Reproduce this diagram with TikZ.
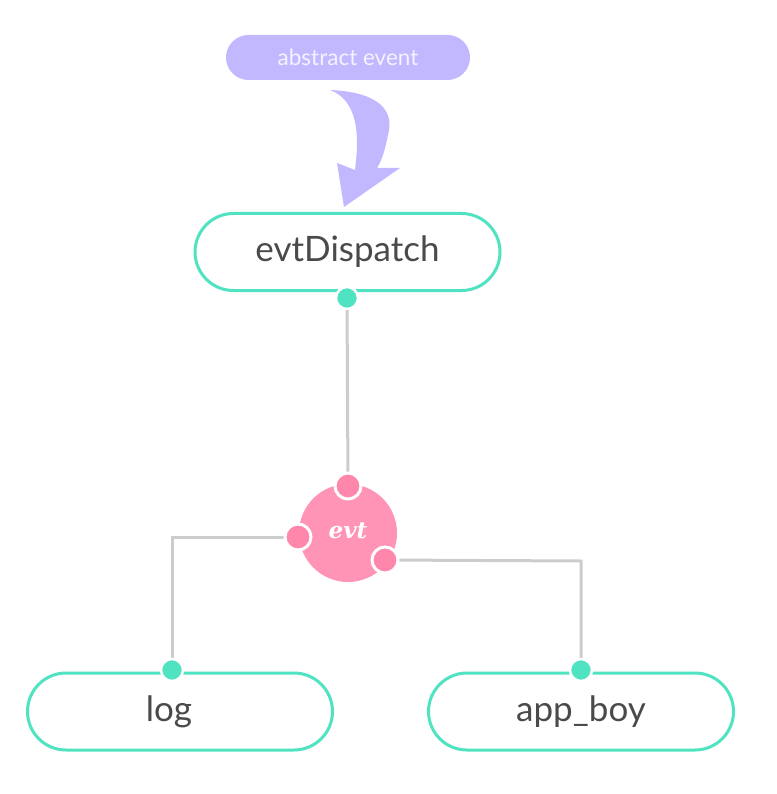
\documentclass[tikz,border=0pt]{standalone}
\usepackage{fontspec}
\setmainfont{Lato}
\newfontfamily\evtfont{DejaVu Serif}
\usetikzlibrary{calc,backgrounds}
\definecolor{teal}{HTML}{50E3C2}
\definecolor{pinkbig}{HTML}{FF94B6}
\definecolor{pinkdot}{HTML}{FF87AB}
\definecolor{lav}{HTML}{C2B8FF}
\definecolor{wire}{HTML}{CCCCCC}
\definecolor{txt}{HTML}{4A4A4A}
\tikzset{
  pill/.style={draw=teal, line width=3pt, fill=white, rounded corners=38.5pt, minimum width=305pt, minimum height=77pt, inner sep=0pt, text=txt, font=\fontsize{35}{40}\selectfont},
  tdot/.style={circle, fill=teal, draw=white, line width=2.5pt, minimum size=22pt, inner sep=0pt},
  pdot/.style={circle, fill=pinkdot, draw=white, line width=3pt, minimum size=26pt, inner sep=0pt},
  wireline/.style={draw=wire, line width=3pt},
}
\begin{document}
\begin{tikzpicture}[x=1pt,y=-1pt]
\useasboundingbox (0,0) rectangle (776,794);
% abstract event
\node[fill=lav, rounded corners=22.5pt, minimum width=244pt, minimum height=45pt, inner sep=0pt, text=white!82!lav, font=\fontsize{22.5}{26}\selectfont] (abs) at (348,57.5) {abstract event};
% curved arrow
\fill[lav] (330,90) .. controls (378,92) and (395,110) .. (388,135)
  .. controls (385,150) and (382,160) .. (377,168) -- (400,168) -- (344,207) -- (337,163) -- (355,170)
  .. controls (358,145) and (362,102) .. (330,90) -- cycle;
\coordinate (c1) at (172,537);
\coordinate (c2) at (581,561);
% main nodes
\node[pill] (disp) at (347.5,252) {evtDispatch};
\node[pill] (log) at (180,711.5) {};
\node[text=txt, font=\fontsize{35}{40}\selectfont, inner sep=0pt] (logt) at (169,711.5) {log};
\node[pill] (app) at (581,711.5) {app\_boy};
\node[circle, fill=pinkbig, minimum size=98pt, inner sep=0pt] (evt) at (348,533) {};
\node[text=white, font=\evtfont\bfseries\itshape\fontsize{23}{26}\selectfont] (evtt) at (348,531) {evt};
% dots
\node[tdot] (d0) at (347,298) {};
\node[tdot] (d1) at (172,670) {};
\node[tdot] (d2) at (581,670) {};
\node[pdot] (p0) at (348,486) {};
\node[pdot] (p1) at (298,537) {};
\node[pdot] (p2) at (385,560) {};
\begin{pgfonlayer}{background}
\draw[wireline] (d0.center) -- (p0.center);
\draw[wireline] (p1.center) -- (c1) -- (d1.center);
\draw[wireline] (p2.center) -- (c2) -- (d2.center);
\end{pgfonlayer}
\end{tikzpicture}
\end{document}
